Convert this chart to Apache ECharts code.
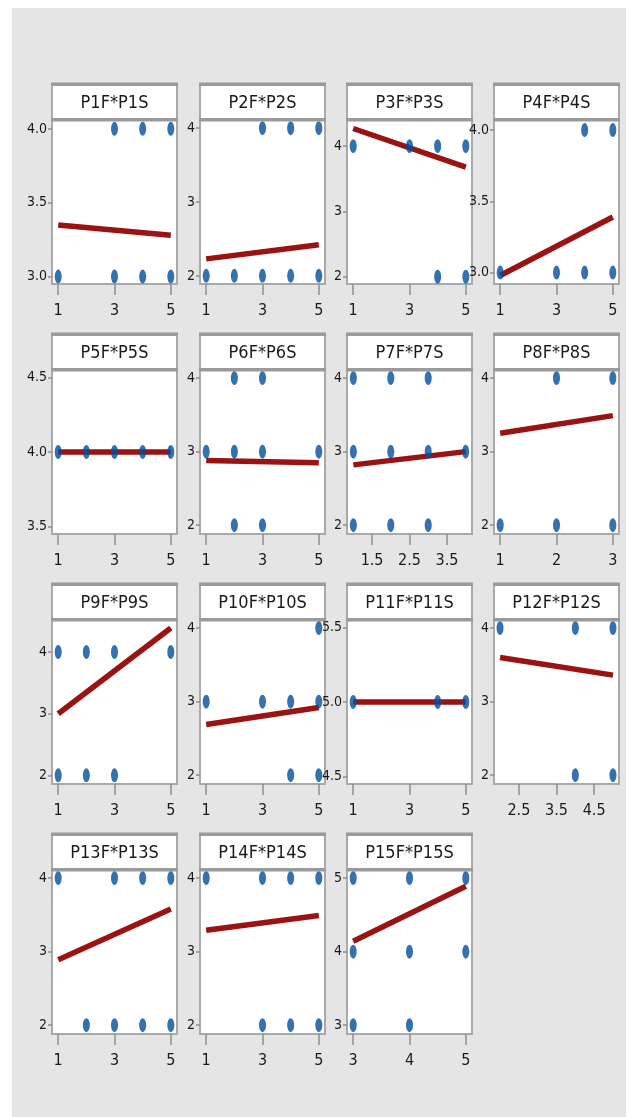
<!DOCTYPE html>
<html><head><meta charset="utf-8">
<script src="https://cdn.jsdelivr.net/npm/echarts@6/dist/echarts.min.js"></script>
<style>html,body{margin:0;padding:0;background:#fff;}#c{position:absolute;left:12px;top:8px;width:614px;height:1109px;}</style>
</head><body><div id="c"></div>
<script>
// ---------- data ----------
const panelTitles = ["P1F*P1S","P2F*P2S","P3F*P3S","P4F*P4S","P5F*P5S","P6F*P6S","P7F*P7S","P8F*P8S",
  "P9F*P9S","P10F*P10S","P11F*P11S","P12F*P12S","P13F*P13S","P14F*P14S","P15F*P15S"];
const pointX = [
  [3,4,5,1,3,4,5],
  [3,4,5,1,2,3,4,5],
  [1,3,4,5,4,5],
  [1,3,4,5,4,5],
  [1,2,3,4,5],
  [2,3,1,2,3,5,2,3],
  [1,2,3,1,2,3,4,1,2,3],
  [2,3,1,2,3],
  [1,2,3,5,1,2,3],
  [5,1,3,4,5,4,5],
  [1,4,5],
  [2,4,5,4,5],
  [1,3,4,5,2,3,4,5],
  [1,3,4,5,3,4,5],
  [3,4,5,3,4,5,3,4]
];
const pointY = [
  [4,4,4,3,3,3,3],
  [4,4,4,2,2,2,2,2],
  [4,4,4,4,2,2],
  [3,3,3,3,4,4],
  [4,4,4,4,4],
  [4,4,3,3,3,3,2,2],
  [4,4,4,3,3,3,3,2,2,2],
  [4,4,2,2,2],
  [4,4,4,4,2,2,2],
  [4,3,3,3,3,2,2],
  [5,5,5],
  [4,4,4,2,2],
  [4,4,4,4,2,2,2,2],
  [4,4,4,4,2,2,2],
  [5,5,5,4,4,4,3,3]
];
const fitStart = [[1,3.35],[1,2.23],[1,4.27],[1,2.98],[1,4.0],[1,2.88],[1,2.82],[1,3.25],
  [1,3.0],[1,2.69],[1,5.0],[2,3.60],[1,2.89],[1,3.29],[3,4.14]];
const fitEnd = [[5,3.28],[5,2.42],[5,3.68],[5,3.39],[5,4.0],[5,2.85],[4,3.0],[3,3.49],
  [5,4.39],[5,2.92],[5,5.0],[5,3.36],[5,3.58],[5,3.49],[5,4.89]];
const xTickLabels = [
  ["1","3","5"],["1","3","5"],["1","3","5"],["1","3","5"],
  ["1","3","5"],["1","3","5"],["1.5","2.5","3.5"],["1","2","3"],
  ["1","3","5"],["1","3","5"],["1","3","5"],["2.5","3.5","4.5"],
  ["1","3","5"],["1","3","5"],["3","4","5"]
];
const yTickLabels = [
  ["3.0","3.5","4.0"],["2","3","4"],["2","3","4"],["3.0","3.5","4.0"],
  ["3.5","4.0","4.5"],["2","3","4"],["2","3","4"],["2","3","4"],
  ["2","3","4"],["2","3","4"],["4.5","5.0","5.5"],["2","3","4"],
  ["2","3","4"],["2","3","4"],["3","4","5"]
];
const xRange = [
  [0.78,5.22],[0.78,5.22],[0.78,5.22],[0.78,5.22],
  [0.78,5.22],[0.78,5.22],[0.83,4.17],[0.89,3.11],
  [0.78,5.22],[0.78,5.22],[0.78,5.22],[1.84,5.16],
  [0.78,5.22],[0.78,5.22],[2.89,5.11]
];
const yRange = [
  [2.95,4.06],[1.89,4.11],[1.89,4.40],[2.92,4.07],
  [3.45,4.55],[1.88,4.11],[1.88,4.11],[1.88,4.11],
  [1.86,4.52],[1.88,4.11],[4.45,5.55],[1.88,4.11],
  [1.88,4.11],[1.88,4.11],[2.88,5.11]
];

// ---------- layout ----------
const OX = 12, OY = 8;
const colLeft = [52, 200, 347, 494];
const rowTop = [120, 370, 620, 870];
const plotW = 125, plotH = 164, headH = 36;
const FONT = "'Liberation Sans Narrow','DejaVu Sans Condensed',sans-serif";
const TXT = '#1a1a1a';

function fmt(labels) {
  return function (v) {
    for (const s of labels) if (Math.abs(Number(s) - v) < 1e-9) return s;
    return '';
  };
}

const grids = [], xAxes = [], yAxes = [], series = [], graphics = [];
panelTitles.forEach((t, i) => {
  const r = Math.floor(i / 4), c = i % 4;
  const L = colLeft[c] - OX, T = rowTop[r] - OY;
  grids.push({left: L, top: T, width: plotW, height: plotH, show: true,
    backgroundColor: '#fff', borderColor: '#a9a9a9', borderWidth: 2,
    containLabel: false, outerBoundsMode: 'none'});
  const xv = xTickLabels[i].map(Number), yv = yTickLabels[i].map(Number);
  xAxes.push({type: 'value', gridIndex: i, min: xRange[i][0], max: xRange[i][1],
    axisLine: {show: false}, splitLine: {show: false},
    axisTick: {show: true, length: 11, customValues: xv, lineStyle: {color: '#8f8f8f', width: 1.5}},
    axisLabel: {customValues: xv, formatter: fmt(xTickLabels[i]), margin: 19,
      fontSize: 16, color: TXT, fontFamily: FONT}});
  yAxes.push({type: 'value', gridIndex: i, min: yRange[i][0], max: yRange[i][1],
    axisLine: {show: false}, splitLine: {show: false},
    axisTick: {show: true, length: 4, customValues: yv, lineStyle: {color: '#8f8f8f', width: 1.5}},
    axisLabel: {customValues: yv, formatter: fmt(yTickLabels[i]), margin: 5,
      fontSize: 14, color: TXT, fontFamily: FONT}});
  series.push({type: 'line', xAxisIndex: i, yAxisIndex: i, data: [fitStart[i], fitEnd[i]],
    symbol: 'none', lineStyle: {color: '#9a1212', width: 5.5}, z: 2, silent: true});
  series.push({type: 'scatter', xAxisIndex: i, yAxisIndex: i,
    data: pointX[i].map((x, k) => [x, pointY[i][k]]),
    symbol: 'circle', symbolSize: [7, 14], itemStyle: {color: '#004e9e'}, z: 3, clip: false});
  // panel header
  graphics.push({type: 'rect', shape: {x: L, y: T - headH, width: plotW, height: headH},
    style: {fill: '#fff', stroke: '#a9a9a9', lineWidth: 2}, z: 10});
  graphics.push({type: 'rect', shape: {x: L - 1, y: T - headH - 1.5, width: plotW + 2, height: 3.5},
    style: {fill: '#9a9a9a'}, z: 11});
  graphics.push({type: 'rect', shape: {x: L - 1, y: T - 2, width: plotW + 2, height: 3.5},
    style: {fill: '#9a9a9a'}, z: 11});
  graphics.push({type: 'text', x: L + plotW / 2, y: T - headH / 2 + 1,
    style: {text: t, fill: TXT, font: '18px ' + FONT, textAlign: 'center', textVerticalAlign: 'middle'}, z: 12});
});

const chart = echarts.init(document.getElementById('c'), null, {renderer: 'canvas'});
chart.setOption({
  animation: false,
  backgroundColor: '#e5e5e5',
  grid: grids, xAxis: xAxes, yAxis: yAxes, series: series, graphic: graphics
});
</script></body></html>
